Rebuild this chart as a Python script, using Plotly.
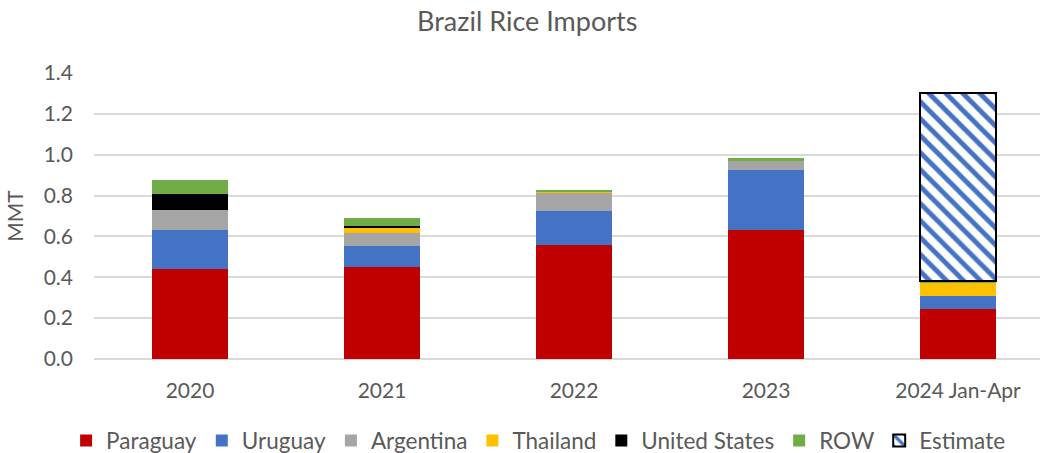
import plotly.graph_objects as go

categories = ["2020", "2021", "2022", "2023", "2024 Jan-Apr"]
paraguay = [0.44, 0.45, 0.556, 0.63, 0.243]
uruguay = [0.19, 0.105, 0.17, 0.297, 0.064]
argentina = [0.10, 0.062, 0.09, 0.044, 0.0]
thailand = [0.0, 0.028, 0.003, 0.0, 0.067]
united_states = [0.08, 0.005, 0.0, 0.0, 0.0]
row = [0.068, 0.04, 0.008, 0.011, 0.008]
estimate = [None, None, None, None, 0.918]

series = [
    ("Paraguay", paraguay, "#C00000"),
    ("Uruguay", uruguay, "#4472C4"),
    ("Argentina", argentina, "#A5A5A5"),
    ("Thailand", thailand, "#FFC000"),
    ("United States", united_states, "#000000"),
    ("ROW", row, "#70AD47"),
]

font_family = "Lato, 'Open Sans', sans-serif"
text_color = "#595959"

fig = go.Figure()
for name, vals, color in series:
    fig.add_trace(go.Bar(
        name=name, x=categories, y=vals,
        marker=dict(color=color, line=dict(width=0)),
    ))

fig.add_trace(go.Bar(
    name="Estimate", x=categories, y=estimate,
    marker=dict(
        color="white",
        line=dict(color="black", width=2),
        pattern=dict(shape="\\", fgcolor="#4472C4", bgcolor="white",
                     fgopacity=1, size=12, solidity=0.4, fillmode="replace"),
    ),
))

fig.update_layout(
    barmode="stack",
    bargap=0.6,
    width=1040, height=453,
    paper_bgcolor="white", plot_bgcolor="white",
    margin=dict(l=94, r=0, t=73, b=94),
    font=dict(family=font_family, color=text_color, size=21),
    title=dict(text="Brazil Rice Imports", x=0.507, xanchor="center",
               yref="container", y=0.952, yanchor="middle",
               font=dict(size=27, color=text_color, family=font_family)),
    legend=dict(orientation="h", x=0.47, xanchor="center",
                yref="container", y=0.027, yanchor="middle",
                font=dict(size=22.5, color=text_color),
                traceorder="normal", itemwidth=30, tracegroupgap=0),
    showlegend=True,
)

fig.update_xaxes(
    range=[-0.5, 4.427],
    showgrid=False, showline=False, zeroline=False,
    ticks="", ticklabelstandoff=17,
    tickfont=dict(size=21, color=text_color),
)
fig.update_yaxes(
    range=[0, 1.4], dtick=0.2, tickformat=".1f",
    showgrid=True, gridcolor="#D9D9D9", gridwidth=1.5,
    zeroline=True, zerolinecolor="#D9D9D9", zerolinewidth=1.5,
    showline=False, ticks="", ticklabelstandoff=20,
    tickfont=dict(size=21, color=text_color),
    title=dict(text="MMT", font=dict(size=21, color=text_color), standoff=14),
)

fig.write_html("out.html", config={"displayModeBar": False},
               post_script="document.body.style.margin='0px';")
